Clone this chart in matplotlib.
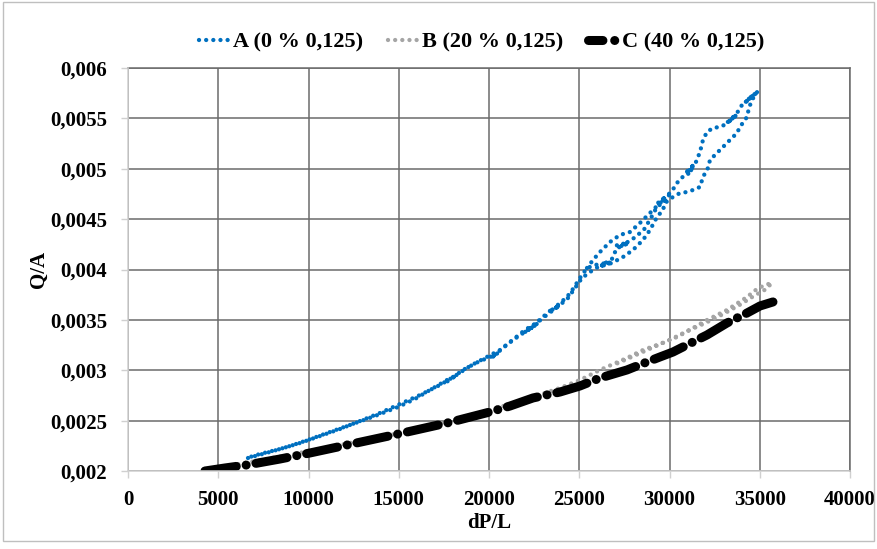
import matplotlib
matplotlib.use("Agg")
import matplotlib.pyplot as plt
from matplotlib.patches import Rectangle
from matplotlib.lines import Line2D

# ---------------- data ----------------
# Series A (0 % 0,125): rising pass (zig-zags = dense steady-state clumps)
A_up_x = [6648, 7867, 8975, 9972, 11191, 12299, 13684, 14958, 15900, 16731,
          17673, 18200, 17700, 18559, 19390, 20055, 20500, 20100, 20775, 21329,
          21900, 22600, 22000, 22650, 22100, 22991, 23300, 23900, 23400, 23950,
          23500, 24321, 24653, 25041, 25429, 26000, 26700, 26100, 26650, 26200,
          26800, 27000, 27100, 27700, 27200, 27750, 27300, 28100, 28600, 29000,
          29300, 29900, 29350, 30000, 29500, 30100, 30500, 30800, 31400, 30900,
          31300, 31000, 31450, 31689, 31855, 32077, 32409, 32797, 33100, 33700,
          33200, 33750, 33300, 33739, 34016, 34100, 34700, 34200, 34800, 34300,
          34850]
A_up_y = [0.002129, 0.002189, 0.002248, 0.002308, 0.002387, 0.002457, 0.002546, 0.002635, 0.002715, 0.002804,
          0.002903, 0.002950, 0.002890, 0.003003, 0.003082, 0.003132, 0.003170, 0.003120, 0.003221, 0.003300,
          0.00337, 0.00345, 0.00338, 0.00346, 0.00339, 0.003529, 0.00358, 0.00364, 0.00359, 0.00365,
          0.00360, 0.003727, 0.003807, 0.003916, 0.004015, 0.00405, 0.00407, 0.00403, 0.00406, 0.00404,
          0.00410, 0.00418, 0.00425, 0.00426, 0.00422, 0.00427, 0.00423, 0.00432, 0.00440, 0.00452,
          0.00462, 0.00470, 0.00466, 0.00474, 0.00468, 0.00477, 0.00488, 0.00493, 0.00505, 0.00496,
          0.00501, 0.00494, 0.00506, 0.005166, 0.005286, 0.005365, 0.005405, 0.005415, 0.00544, 0.00553,
          0.00546, 0.00554, 0.00547, 0.005553, 0.005633, 0.00564, 0.00574, 0.00566, 0.00575, 0.00568,
          0.00576]

# Series A: falling pass
A_down_x = [34850, 34570, 34403, 34293, 33905, 33739, 33351, 32963, 32631, 32243,
            32132, 31855, 31689, 31301, 30969, 30581, 30193, 29750, 29639, 29307,
            28919, 28531, 27977, 27423, 26814, 26426, 26038, 25595, 25152, 24764,
            24376, 23933, 23268, 22714, 21994, 21440, 20609, 19778, 18947, 18116,
            17285, 16177, 15069, 13961, 12853, 11745, 10637, 9529, 8421, 7313, 6759]
A_down_y = [0.00576, 0.005683, 0.005603, 0.005514, 0.005415, 0.005355, 0.005286, 0.005216, 0.005157, 0.005087,
            0.005008, 0.004918, 0.004819, 0.004789, 0.004769, 0.004759, 0.004720, 0.004660, 0.004591, 0.004521,
            0.004392, 0.004293, 0.004194, 0.004124, 0.004065, 0.004045, 0.004025, 0.003975, 0.003916, 0.003816,
            0.003717, 0.003648, 0.003558, 0.003479, 0.003400, 0.003320, 0.003201, 0.003122, 0.003042, 0.002943,
            0.002854, 0.002754, 0.002665, 0.002576, 0.002496, 0.002417, 0.002347, 0.002278, 0.002218, 0.002169, 0.002139]

# Series A: outer branch of the lower loop
A_loop_x = [25429, 25761, 26149, 26703, 27257, 27811, 28365, 28919, 29473, 29750]
A_loop_y = [0.004015, 0.004094, 0.004174, 0.004273, 0.004343, 0.004372, 0.004462, 0.004561, 0.004660, 0.004700]

# Series B (20 % 0,125)
B_x = [4155, 6759, 10083, 15069, 17839, 20055, 22271, 23933, 25041, 26149,
       27645, 28531, 29473, 30414, 31301, 32077, 33185, 34293, 34847, 35290,
       35678, 35300, 34700, 33900, 33000, 32000, 31000, 30000, 29000, 28000, 27000]
B_y = [0.002010, 0.002089, 0.002199, 0.002377, 0.002496, 0.002605, 0.002725, 0.002824, 0.002903, 0.003003,
       0.003122, 0.003201, 0.003261, 0.003330, 0.003419, 0.003499, 0.003598, 0.003727, 0.003807, 0.003846,
       0.003866, 0.003800, 0.003740, 0.003650, 0.003560, 0.003470, 0.003390, 0.003300, 0.003220, 0.003140, 0.003060]

# Series C (40 % 0,125)
C_x = [4266, 5374, 6593, 8421, 10083, 12133, 14958, 17673, 20055, 21163,
       22437, 23933, 25041, 26149, 27645, 28753, 29473, 30193, 30969, 32077,
       33185, 34293, 35013, 35733]
C_y = [0.002000, 0.002030, 0.002060, 0.002119, 0.002179, 0.002258, 0.002367, 0.002476, 0.002586, 0.002645,
       0.002725, 0.002784, 0.002844, 0.002923, 0.003003, 0.003082, 0.003132, 0.003181, 0.003251, 0.003350,
       0.003469, 0.003568, 0.003638, 0.003678]

labels = ["A (0 % 0,125)", "B (20 % 0,125)", "C (40 % 0,125)"]
x_ticks = [0, 5000, 10000, 15000, 20000, 25000, 30000, 35000, 40000]
x_ticklabels = ["0", "5000", "10000", "15000", "20000", "25000", "30000", "35000", "40000"]
y_ticks = [0.002, 0.0025, 0.003, 0.0035, 0.004, 0.0045, 0.005, 0.0055, 0.006]
y_ticklabels = ["0,002", "0,0025", "0,003", "0,0035", "0,004", "0,0045", "0,005", "0,0055", "0,006"]

# ---------------- style ----------------
plt.rcParams['font.family'] = ['Liberation Serif', 'DejaVu Serif']
plt.rcParams['font.weight'] = 'bold'

BLUE = '#0070C0'
GREY = '#A5A5A5'
GRID = '#6B6B6B'
AXIS = '#D0D0D0'

fig = plt.figure(figsize=(8.77, 5.49), dpi=100)
ax = fig.add_axes([128/877, 1-471/549, 722/877, 403/549])

dot = dict(dash_capstyle='round', solid_capstyle='round')
A_LW = 3.1
A_DASH = (0.01, 1.65)
C_LW = 6.5

ax.plot(C_x, C_y, color='black', lw=C_LW, dashes=(3.5, 1.1, 0.01, 1.1), zorder=3, **dot)
hB, = ax.plot(B_x, B_y, color=GREY, lw=A_LW, dashes=A_DASH, zorder=2, **dot)
hA, = ax.plot(A_up_x, A_up_y, color=BLUE, lw=A_LW, dashes=A_DASH, zorder=4, **dot)
ax.plot(A_down_x, A_down_y, color=BLUE, lw=A_LW, dashes=A_DASH, zorder=4, **dot)
ax.plot(A_loop_x, A_loop_y, color=BLUE, lw=A_LW, dashes=A_DASH, zorder=4, **dot)
hC = Line2D([], [], color='black', lw=C_LW, dashes=(1.6, 1.3, 0.01, 1.3), **dot)

ax.set_xlim(0, 40000)
ax.set_ylim(0.002, 0.006)
ax.set_xticks(x_ticks)
ax.set_xticklabels(x_ticklabels)
ax.set_yticks(y_ticks)
ax.set_yticklabels(y_ticklabels)
ax.tick_params(axis='both', labelsize=15, colors=AXIS, labelcolor='black',
               length=5, width=1, direction='out')
ax.tick_params(axis='x', pad=9)
ax.tick_params(axis='y', pad=10)
ax.grid(True, color=GRID, lw=1.1, zorder=0)
ax.set_axisbelow(True)
for s in ['top', 'right']:
    ax.spines[s].set_color(GRID)
    ax.spines[s].set_linewidth(1.1)
for s in ['left', 'bottom']:
    ax.spines[s].set_color(AXIS)
    ax.spines[s].set_linewidth(1.1)
    ax.spines[s].set_zorder(5)

ax.set_xlabel("dP/L", fontsize=15, fontweight='bold', labelpad=2)
ax.set_ylabel("Q/A", fontsize=15, fontweight='bold', labelpad=1)

ax.legend([hA, hB, hC], labels,
          loc='lower center', bbox_to_anchor=(0.49, 1.0), ncol=3, frameon=False,
          fontsize=16, handlelength=1.4, handletextpad=0.15, columnspacing=1.1,
          borderaxespad=0.3)

fig.patches.append(Rectangle((0.003, 0.014), 0.994, 0.982, transform=fig.transFigure,
                             fill=False, edgecolor='#BFBFBF', lw=1.0))

fig.savefig("out.png", dpi=100, facecolor='white')
